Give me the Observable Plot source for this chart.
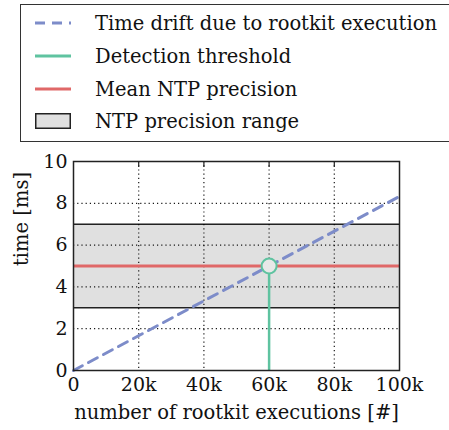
<!DOCTYPE html>
<html><head><meta charset="utf-8">
<script src="https://cdn.jsdelivr.net/npm/d3@7"></script>
<script src="https://cdn.jsdelivr.net/npm/@observablehq/plot@0.6"></script>
<style>
body{margin:0;background:#fff;}
#wrap{position:relative;width:449px;height:430px;overflow:hidden;font-family:'DejaVu Serif';}
#legend{position:absolute;left:20px;top:4px;width:440px;height:138px;border:1.5px solid #333;box-sizing:border-box;}
.row{position:absolute;left:0;height:30px;display:flex;align-items:center;font-family:'DejaVu Serif';font-size:19.5px;color:#111;white-space:nowrap;}
.row svg{margin-left:14px;margin-right:24px;flex:none;}
#chart{position:absolute;left:0;top:145px;}
</style></head>
<body><div id="wrap"><div id="legend"></div><div id="chart"></div></div>
<script>
const legendLabels = ["Time drift due to rootkit execution","Detection threshold","Mean NTP precision","NTP precision range"];
const xTicks = [0,20000,40000,60000,80000,100000];
const xTickLabels = ["0","20k","40k","60k","80k","100k"];
const yTicks = [0,2,4,6,8,10];
const driftX = [0,100000];
const driftY = [0,8.33];
const thresholdX = 60000;
const meanPrecision = 5;
const rangeLow = 3, rangeHigh = 7;
const xLabel = "number of rootkit executions [#]";
const yLabel = "time [ms]";

const cBlue="#7d8cc9", cGreen="#5fc3a0", cRed="#e06868", cBand="#e0e0e0";
const FONT = "'DejaVu Serif'";

// legend
const leg = document.getElementById("legend");
const handles = [
 `<svg width="36" height="10"><line x1="0" y1="5" x2="36" y2="5" stroke="${cBlue}" stroke-width="3" stroke-dasharray="10,7"/></svg>`,
 `<svg width="36" height="10"><line x1="0" y1="5" x2="36" y2="5" stroke="${cGreen}" stroke-width="3"/></svg>`,
 `<svg width="36" height="10"><line x1="0" y1="5" x2="36" y2="5" stroke="${cRed}" stroke-width="3"/></svg>`,
 `<svg width="36" height="16"><rect x="0.75" y="0.75" width="34.5" height="14.5" fill="${cBand}" stroke="#222" stroke-width="1.5"/></svg>`
];
const rowTops=[3,36,69,101];
legendLabels.forEach((t,i)=>{
  const d=document.createElement("div");d.className="row";d.style.top=rowTops[i]+"px";
  d.innerHTML=handles[i]+`<span style="font-family:'DejaVu Serif'">${t}</span>`;leg.appendChild(d);
});

const drift = driftX.map((x,i)=>({x,y:driftY[i]}));
const band = [{x1:xTicks[0],x2:xTicks[xTicks.length-1],lo:rangeLow,hi:rangeHigh}];

const plot = Plot.plot({
  width:449,height:285,
  marginLeft:73,marginRight:50,marginTop:16,marginBottom:60,
  style:{fontFamily:FONT,fontSize:"19px",color:"#111",background:"transparent"},
  x:{domain:[xTicks[0],xTicks[xTicks.length-1]],ticks:xTicks},
  y:{domain:[yTicks[0],yTicks[yTicks.length-1]],ticks:yTicks},
  marks:[
    Plot.rect(band,{x1:"x1",x2:"x2",y1:"lo",y2:"hi",fill:cBand}),
    Plot.ruleY([rangeLow,rangeHigh],{stroke:"#222",strokeWidth:1.5}),
    Plot.gridX(xTicks.slice(1,-1),{stroke:"#000",strokeOpacity:0.9,strokeDasharray:"1.2,3",strokeWidth:1.2}),
    Plot.gridY(yTicks.slice(1,-1),{stroke:"#000",strokeOpacity:0.9,strokeDasharray:"1.2,3",strokeWidth:1.2}),
    Plot.tickX(xTicks.slice(1,-1),{stroke:"#222",strokeWidth:1.2,insetBottom:203}),
    Plot.ruleY([meanPrecision],{stroke:cRed,strokeWidth:3}),
    Plot.line(drift,{x:"x",y:"y",stroke:cBlue,strokeWidth:3,strokeDasharray:"10,7"}),
    Plot.ruleX([thresholdX],{y1:yTicks[0],y2:meanPrecision,stroke:cGreen,strokeWidth:2.5}),
    Plot.dot([{x:thresholdX,y:meanPrecision}],{x:"x",y:"y",r:7.5,stroke:cGreen,strokeWidth:2,fill:"#e8e8e8"}),
    Plot.frame({stroke:"#222",strokeWidth:1.5}),
    Plot.axisX(xTicks,{tickSize:0,tickPadding:7,tickFormat:(d)=>xTickLabels[xTicks.indexOf(d)],label:null,fontSize:19,fontFamily:FONT}),
    Plot.axisY(yTicks,{tickSize:0,tickPadding:6,label:null,fontSize:19,fontFamily:FONT}),
    Plot.text([xLabel],{frameAnchor:"bottom",dy:48,fontSize:19.5,fontFamily:FONT}),
    Plot.text([yLabel],{frameAnchor:"left",dx:-52,rotate:-90,fontSize:19.5,fontFamily:FONT})
  ]
});
document.getElementById("chart").appendChild(plot);
</script></body></html>
